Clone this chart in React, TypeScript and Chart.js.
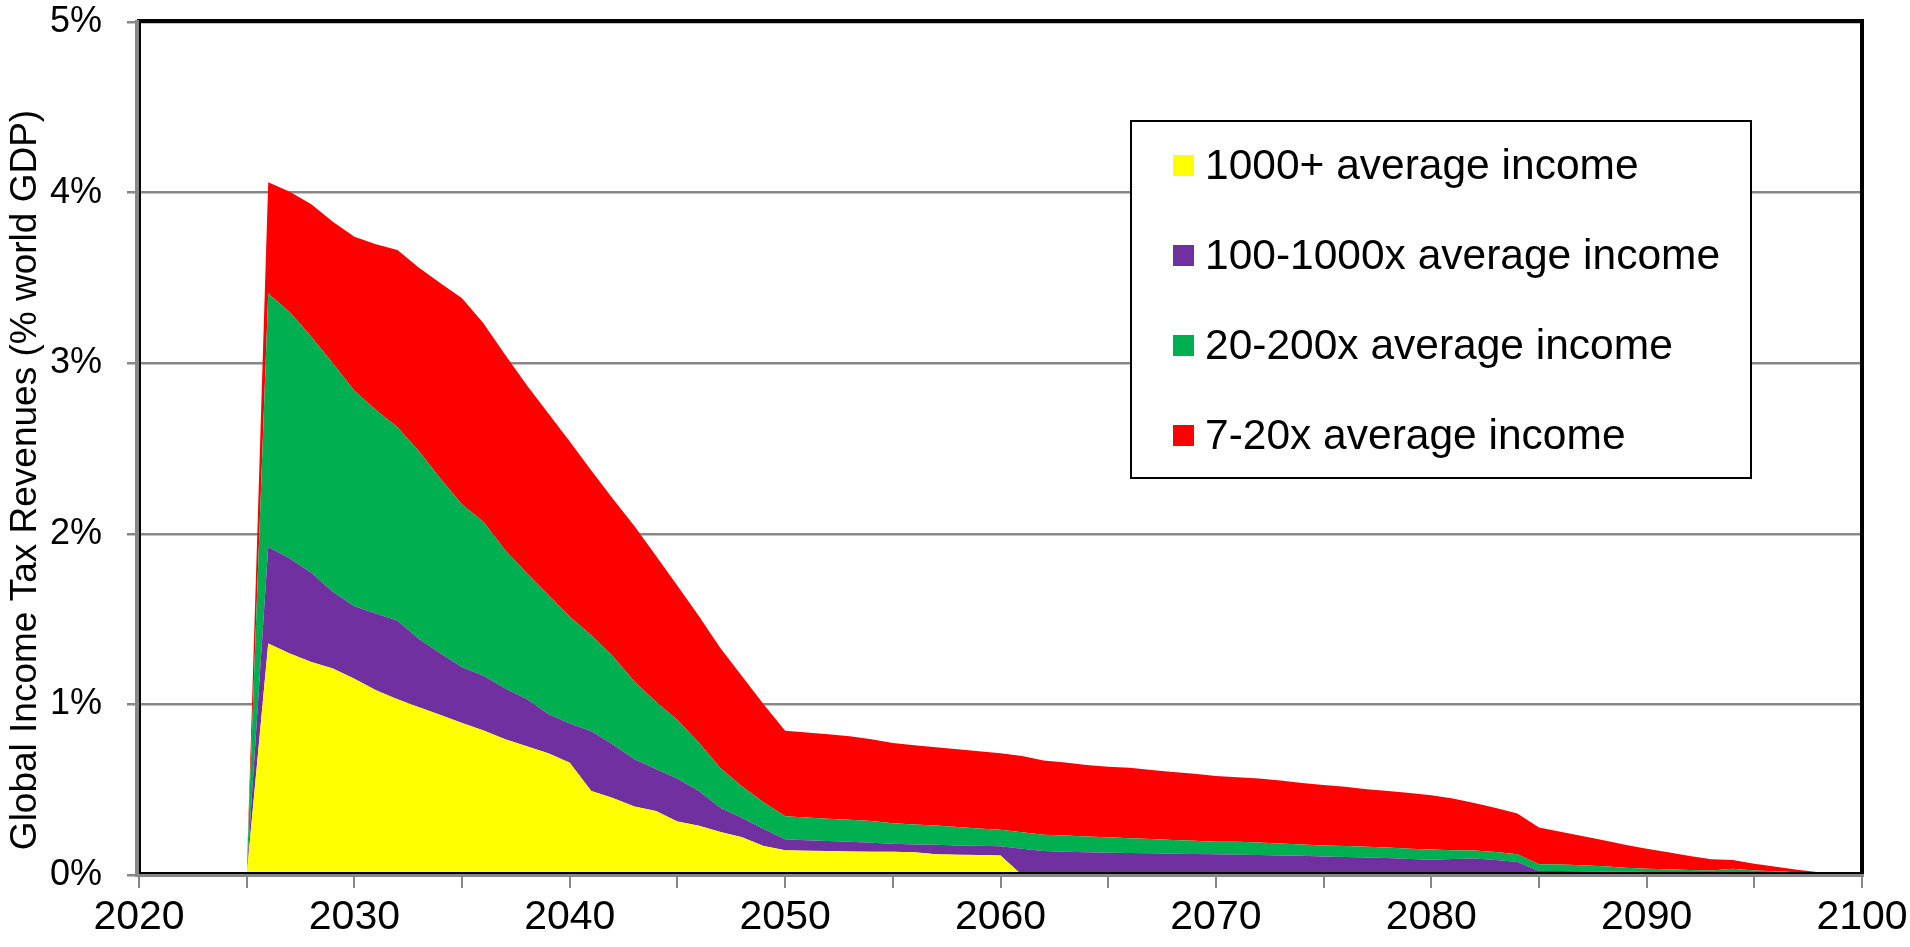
import React, { useEffect, useRef } from "react";
import { Chart, registerables } from "chart.js";

Chart.register(...registerables);

const FONT = '"Liberation Sans", Arial, Helvetica, sans-serif';

const years = [
  2025, 2026, 2027, 2028, 2029, 2030, 2031, 2032, 2033, 2034,
  2035, 2036, 2037, 2038, 2039, 2040, 2041, 2042, 2043, 2044,
  2045, 2046, 2047, 2048, 2049, 2050, 2051, 2052, 2053, 2054,
  2055, 2056, 2057, 2058, 2059, 2060, 2061, 2062, 2063, 2064,
  2065, 2066, 2067, 2068, 2069, 2070, 2071, 2072, 2073, 2074,
  2075, 2076, 2077, 2078, 2079, 2080, 2081, 2082, 2083, 2084,
  2085, 2086, 2087, 2088, 2089, 2090, 2091, 2092, 2093, 2094,
  2095, 2096, 2097, 2098, 2099, 2100,
];

// % of world GDP, per income group (not cumulative)
const top1000 = [
  0, 1.357, 1.298, 1.249, 1.21, 1.151, 1.083, 1.03, 0.983, 0.938,
  0.891, 0.847, 0.796, 0.755, 0.714, 0.658, 0.492, 0.451, 0.402, 0.375,
  0.314, 0.289, 0.252, 0.222, 0.17, 0.145, 0.142, 0.14, 0.138, 0.136,
  0.136, 0.133, 0.121, 0.119, 0.117, 0.115, 0, 0, 0, 0,
  0, 0, 0, 0, 0, 0, 0, 0, 0, 0,
  0, 0, 0, 0, 0, 0, 0, 0, 0, 0,
  0, 0, 0, 0, 0, 0, 0, 0, 0, 0,
  0, 0, 0, 0, 0, 0,
];

const range100to1000 = [
  0, 0.566, 0.557, 0.522, 0.449, 0.424, 0.45, 0.46, 0.401, 0.36,
  0.327, 0.321, 0.297, 0.277, 0.23, 0.23, 0.351, 0.314, 0.277, 0.247,
  0.25, 0.203, 0.14, 0.112, 0.099, 0.065, 0.061, 0.059, 0.057, 0.053,
  0.047, 0.046, 0.056, 0.054, 0.055, 0.053, 0.154, 0.14, 0.136, 0.133,
  0.131, 0.129, 0.127, 0.125, 0.123, 0.121, 0.119, 0.117, 0.115, 0.113,
  0.109, 0.105, 0.103, 0.099, 0.094, 0.09, 0.094, 0.096, 0.088, 0.076,
  0.023, 0.023, 0.022, 0.021, 0.02, 0.018, 0.015, 0.012, 0.008, 0.018,
  0.012, 0.01, 0.008, 0.004, 0.002, 0,
];

const range20to200 = [
  0, 1.486, 1.443, 1.384, 1.34, 1.263, 1.192, 1.135, 1.1, 1.024,
  0.954, 0.901, 0.811, 0.738, 0.699, 0.626, 0.562, 0.517, 0.455, 0.393,
  0.345, 0.283, 0.234, 0.185, 0.158, 0.134, 0.134, 0.13, 0.129, 0.127,
  0.121, 0.117, 0.113, 0.108, 0.101, 0.097, 0.097, 0.096, 0.096, 0.093,
  0.091, 0.087, 0.084, 0.08, 0.078, 0.074, 0.076, 0.074, 0.07, 0.066,
  0.064, 0.065, 0.062, 0.062, 0.06, 0.059, 0.051, 0.047, 0.047, 0.045,
  0.04, 0.038, 0.035, 0.03, 0.023, 0.019, 0.018, 0.017, 0.019, 0.019,
  0.015, 0.012, 0.008, 0.006, 0.004, 0,
];

const range7to20 = [
  0, 0.651, 0.707, 0.776, 0.83, 0.903, 0.972, 1.038, 1.076, 1.146,
  1.208, 1.164, 1.146, 1.102, 1.063, 1.027, 0.966, 0.923, 0.911, 0.856,
  0.787, 0.741, 0.703, 0.646, 0.574, 0.502, 0.499, 0.496, 0.489, 0.479,
  0.47, 0.464, 0.459, 0.456, 0.452, 0.448, 0.447, 0.435, 0.427, 0.419,
  0.413, 0.412, 0.405, 0.399, 0.392, 0.386, 0.378, 0.374, 0.369, 0.361,
  0.355, 0.347, 0.338, 0.332, 0.327, 0.318, 0.303, 0.279, 0.258, 0.239,
  0.215, 0.193, 0.172, 0.152, 0.135, 0.117, 0.1, 0.082, 0.065, 0.051,
  0.039, 0.027, 0.015, 0.006, 0.002, 0,
];

const seriesLabels = [
  "1000+ average income",
  "100-1000x average income",
  "20-200x average income",
  "7-20x average income",
];
const seriesColors = ["#FFFF00", "#7030A0", "#00B050", "#FF0000"];
const seriesValues = [top1000, range100to1000, range20to200, range7to20];

const yTitle = "Global Income Tax Revenues (% world GDP)";
const xMin = 2020;
const xMax = 2100;
const yMin = 0;
const yMax = 5;

const framePlugin = {
  id: "frame",
  afterDraw(chart: any) {
    const { ctx, chartArea } = chart;
    const { left, right, top, bottom } = chartArea;
    ctx.save();
    ctx.lineCap = "butt";
    // black plot-area border
    ctx.strokeStyle = "#000";
    ctx.lineWidth = 4;
    ctx.beginPath();
    ctx.moveTo(left - 2, top - 1);
    ctx.lineTo(right + 2, top - 1);
    ctx.moveTo(right, top - 3);
    ctx.lineTo(right, bottom + 1);
    ctx.stroke();
    ctx.lineWidth = 2;
    ctx.beginPath();
    ctx.moveTo(left, bottom - 2);
    ctx.lineTo(right, bottom - 2);
    ctx.moveTo(left + 1, top);
    ctx.lineTo(left + 1, bottom);
    ctx.stroke();
    // grey axes
    ctx.strokeStyle = "#878787";
    ctx.lineWidth = 4;
    ctx.beginPath();
    ctx.moveTo(left - 2, top - 2);
    ctx.lineTo(left - 2, bottom + 2);
    ctx.stroke();
    ctx.lineWidth = 3;
    ctx.beginPath();
    ctx.moveTo(left - 4, bottom + 0.5);
    ctx.lineTo(right + 2, bottom + 0.5);
    ctx.stroke();
    ctx.restore();
  },
};

const yTitlePlugin = {
  id: "yTitleText",
  afterDraw(chart: any) {
    const { ctx, chartArea } = chart;
    ctx.save();
    ctx.fillStyle = "#000";
    ctx.font = `37px ${FONT}`;
    ctx.textAlign = "center";
    ctx.textBaseline = "alphabetic";
    ctx.translate(36, chartArea.top + 458);
    ctx.rotate(-Math.PI / 2);
    ctx.fillText(yTitle, 0, 0);
    ctx.restore();
  },
};

const legendPlugin = {
  id: "legendBox",
  afterDraw(chart: any) {
    const { ctx } = chart;
    const bx = 1131;
    const by = 121;
    const bw = 620;
    const bh = 357;
    ctx.save();
    ctx.fillStyle = "#fff";
    ctx.fillRect(bx, by, bw, bh);
    ctx.strokeStyle = "#000";
    ctx.lineWidth = 2;
    ctx.strokeRect(bx, by, bw, bh);
    ctx.font = `42.5px ${FONT}`;
    ctx.textAlign = "left";
    ctx.textBaseline = "alphabetic";
    seriesLabels.forEach((label, i) => {
      const cy = 165 + i * 90;
      ctx.fillStyle = seriesColors[i];
      ctx.fillRect(1173, cy - 10, 21, 21);
      ctx.fillStyle = "#000";
      ctx.fillText(label, 1205, cy + 14);
    });
    ctx.restore();
  },
};

export default function App() {
  const canvasRef = useRef<HTMLCanvasElement | null>(null);

  useEffect(() => {
    document.body.style.margin = "0";
    const canvas = canvasRef.current;
    if (!canvas) return;

    const datasets = seriesLabels.map((label, si) => ({
      label,
      data: years.map((x, i) => ({ x, y: seriesValues[si][i] })),
      backgroundColor: seriesColors[si],
      borderColor: seriesColors[si],
      borderWidth: 0,
      pointRadius: 0,
      pointHoverRadius: 0,
      tension: 0,
      fill: si === 0 ? "origin" : "-1",
    }));

    const chart = new Chart(canvas, {
      type: "line",
      data: { datasets },
      options: {
        animation: false,
        responsive: false,
        devicePixelRatio: 1,
        events: [],
        layout: { padding: { top: 22, right: 48, left: 0, bottom: 0 } },
        plugins: {
          legend: { display: false },
          tooltip: { enabled: false },
          title: { display: false },
        },
        scales: {
          x: {
            type: "linear",
            min: xMin,
            max: xMax,
            border: { display: false },
            grid: {
              drawOnChartArea: false,
              drawTicks: true,
              tickLength: 13,
              color: "#878787",
              lineWidth: 2,
            },
            ticks: {
              stepSize: 5,
              autoSkip: false,
              maxRotation: 0,
              minRotation: 0,
              padding: 5,
              color: "#000",
              font: { family: FONT, size: 41 },
              callback: (v: any) => (Number(v) % 10 === 0 ? String(v) : ""),
            },
            afterFit: (s: any) => {
              s.height = 72;
              s.paddingLeft = 0;
              s.paddingRight = 0;
              s.paddingTop = 0;
              s.paddingBottom = 0;
            },
          },
          y: {
            type: "linear",
            stacked: true,
            min: yMin,
            max: yMax,
            border: { display: false },
            grid: {
              color: "#878787",
              lineWidth: 2.5,
              tickLength: 12,
            },
            ticks: {
              stepSize: 1,
              padding: 25,
              color: "#000",
              font: { family: FONT, size: 36 },
              callback: (v: any) => `${v}%`,
            },
            afterFit: (s: any) => {
              s.width = 139;
              s.paddingLeft = 0;
              s.paddingRight = 0;
              s.paddingTop = 0;
              s.paddingBottom = 0;
            },
          },
        },
      },
      plugins: [framePlugin, yTitlePlugin, legendPlugin],
    } as any);

    return () => chart.destroy();
  }, []);

  return (
    <div style={{ width: 1910, height: 947, position: "relative", background: "#fff" }}>
      <canvas ref={canvasRef} width={1910} height={947} style={{ display: "block" }} />
    </div>
  );
}
